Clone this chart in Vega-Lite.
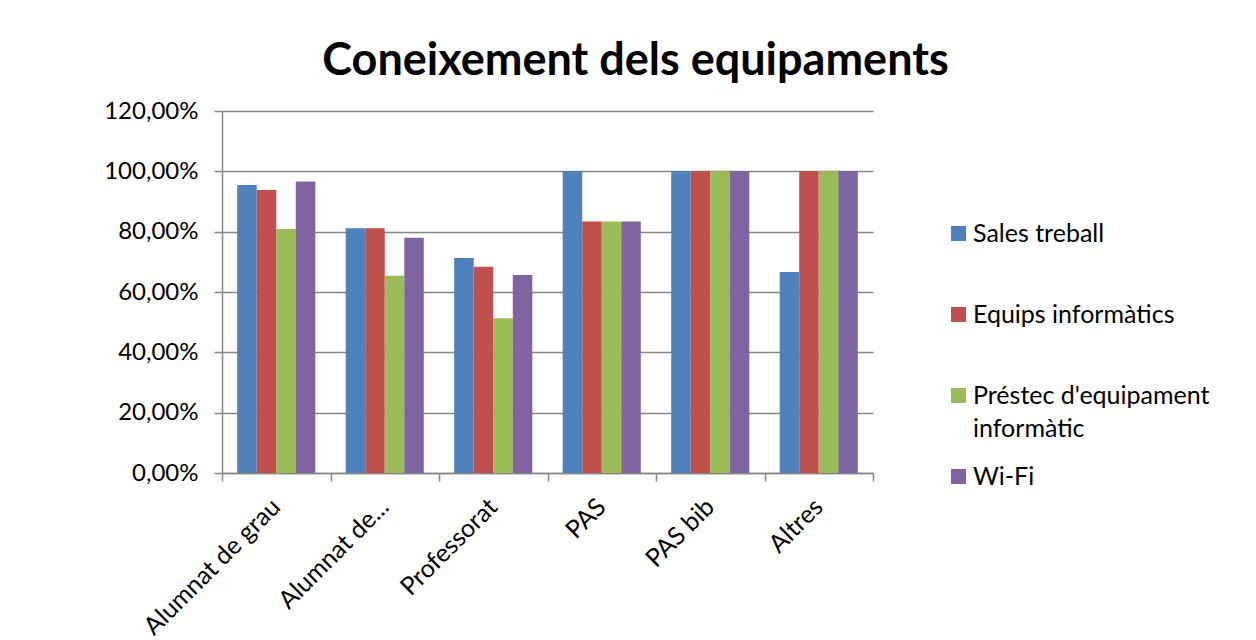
{
  "$schema": "https://vega.github.io/schema/vega-lite/v6.json",
  "autosize": {"type": "none"},
  "width": 651,
  "height": 362,
  "padding": {"left": 222, "top": 111, "right": 383, "bottom": 167},
  "background": "white",
  "title": {
    "text": "Coneixement dels equipaments",
    "font": "Lato",
    "fontSize": 45,
    "fontWeight": "bold",
    "color": "#000000",
    "anchor": "middle",
    "dx": 88,
    "offset": 15
  },
  "data": {
    "values": [
      {"cat": "Alumnat de grau", "serie": "Sales treball", "val": 0.955},
      {"cat": "Alumnat de grau", "serie": "Equips informàtics", "val": 0.938},
      {"cat": "Alumnat de grau", "serie": "Préstec d'equipament informàtic", "val": 0.809},
      {"cat": "Alumnat de grau", "serie": "Wi-Fi", "val": 0.966},
      {"cat": "Alumnat de...", "serie": "Sales treball", "val": 0.811},
      {"cat": "Alumnat de...", "serie": "Equips informàtics", "val": 0.811},
      {"cat": "Alumnat de...", "serie": "Préstec d'equipament informàtic", "val": 0.654},
      {"cat": "Alumnat de...", "serie": "Wi-Fi", "val": 0.78},
      {"cat": "Professorat", "serie": "Sales treball", "val": 0.713},
      {"cat": "Professorat", "serie": "Equips informàtics", "val": 0.684},
      {"cat": "Professorat", "serie": "Préstec d'equipament informàtic", "val": 0.513},
      {"cat": "Professorat", "serie": "Wi-Fi", "val": 0.656},
      {"cat": "PAS", "serie": "Sales treball", "val": 1.0},
      {"cat": "PAS", "serie": "Equips informàtics", "val": 0.8333},
      {"cat": "PAS", "serie": "Préstec d'equipament informàtic", "val": 0.8333},
      {"cat": "PAS", "serie": "Wi-Fi", "val": 0.8333},
      {"cat": "PAS bib", "serie": "Sales treball", "val": 1.0},
      {"cat": "PAS bib", "serie": "Equips informàtics", "val": 1.0},
      {"cat": "PAS bib", "serie": "Préstec d'equipament informàtic", "val": 1.0},
      {"cat": "PAS bib", "serie": "Wi-Fi", "val": 1.0},
      {"cat": "Altres", "serie": "Sales treball", "val": 0.6667},
      {"cat": "Altres", "serie": "Equips informàtics", "val": 1.0},
      {"cat": "Altres", "serie": "Préstec d'equipament informàtic", "val": 1.0},
      {"cat": "Altres", "serie": "Wi-Fi", "val": 1.0}
    ]
  },
  "mark": {"type": "bar"},
  "encoding": {
    "x": {
      "field": "cat",
      "type": "nominal",
      "sort": ["Alumnat de grau", "Alumnat de...", "Professorat", "PAS", "PAS bib", "Altres"],
      "scale": {"paddingInner": 0, "paddingOuter": 0},
      "axis": {
        "title": null,
        "labelAngle": -45,
        "labelAlign": "right",
        "labelBaseline": "top",
        "labelPadding": 13,
        "labelOffset": -9,
        "labelLimit": 400,
        "labelFont": "Lato",
        "labelFontSize": 25,
        "labelColor": "#000000",
        "tickBand": "extent",
        "tickSize": 8,
        "tickColor": "#868686",
        "tickWidth": 1.5,
        "domainColor": "#868686",
        "domainWidth": 1.5,
        "grid": false
      }
    },
    "xOffset": {
      "field": "serie",
      "type": "nominal",
      "scale": {"domain": ["Sales treball", "Equips informàtics", "Préstec d'equipament informàtic", "Wi-Fi"], "paddingInner": 0, "paddingOuter": 0.778}
    },
    "y": {
      "field": "val",
      "type": "quantitative",
      "scale": {"domain": [0, 1.2], "nice": false},
      "axis": {
        "title": null,
        "values": [0, 0.2, 0.4, 0.6, 0.8, 1.0, 1.2],
        "labelExpr": "replace(format(datum.value, '.2%'), '.', ',')",
        "labelFont": "Lato",
        "labelFontSize": 24,
        "labelColor": "#000000",
        "labelPadding": 16,
        "tickSize": 8,
        "tickColor": "#868686",
        "tickWidth": 1.5,
        "domainColor": "#868686",
        "domainWidth": 1.5,
        "grid": true,
        "gridColor": "#868686",
        "gridWidth": 1.5
      }
    },
    "color": {
      "field": "serie",
      "type": "nominal",
      "scale": {
        "domain": ["Sales treball", "Equips informàtics", "Préstec d'equipament informàtic", "Wi-Fi"],
        "range": ["#4F81BD", "#C0504D", "#9BBB59", "#8064A2"]
      },
      "legend": {
        "title": null,
        "orient": "none",
        "legendX": 724,
        "legendY": 110,
        "padding": 0,
        "symbolType": "square",
        "symbolSize": 225,
        "symbolStrokeWidth": 0,
        "labelFont": "Lato",
        "labelFontSize": 25,
        "labelColor": "#000000",
        "labelOffset": 2,
        "labelLimit": 400,
        "rowPadding": 22,
        "labelBaseline": "middle",
        "labelExpr": "datum.label == \"Préstec d'equipament informàtic\" ? [\"Préstec d'equipament\", \"informàtic\"] : [datum.label, \" \"]",
        "encode": {"labels": {"update": {"lineHeight": {"value": 33}}}}
      }
    }
  },
  "config": {
    "view": {"stroke": null},
    "axis": {"gridCap": "butt"},
    "style": {"guide-label": {"lineHeight": 33}}
  }
}
